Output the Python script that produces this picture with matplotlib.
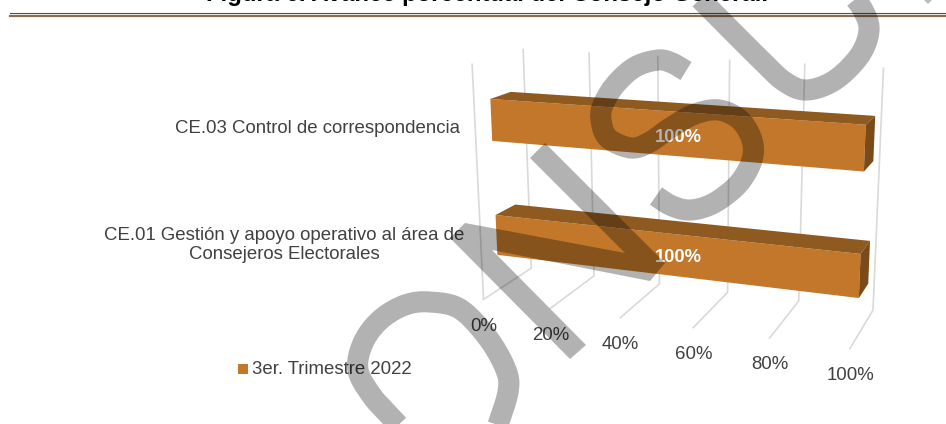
import numpy as np
import matplotlib
matplotlib.use("Agg")
import matplotlib.pyplot as plt
from matplotlib.patches import Polygon, Rectangle

# chart data
categories = ["CE.01 Gestión y apoyo operativo al área de\nConsejeros Electorales",
              "CE.03 Control de correspondencia"]
values = [100, 100]
value_ticks = [0, 20, 40, 60, 80, 100]
tick_labels = ["0%", "20%", "40%", "60%", "80%", "100%"]
series_name = "3er. Trimestre 2022"
title = "Figura 6. Avance porcentual del Consejo General."

plt.rcParams["font.family"] = ["Liberation Sans", "DejaVu Sans"]

# pixel positions of the 3d box, used to fit the camera
front_floor = [(483, 299), (552, 308), (620, 318), (693, 328), (769, 338), (850, 349)]
back_floor = [(531, 269), (594, 275), (659, 284), (728, 292), (799, 301), (873, 310)]
back_top = [(523, 50), (589, 53), (658, 57), (730, 61), (805, 64), (883, 68)]
front_top_left = (472, 64)

world = []
pix = []
for i, t in enumerate(value_ticks):
    world += [(t / 100, 0, 0), (t / 100, 0, 1), (t / 100, 1, 1)]
    pix += [front_floor[i], back_floor[i], back_top[i]]
world.append((0, 1, 0))
pix.append(front_top_left)

A = []
b = []
for (X, Y, Z), (u, v) in zip(world, pix):
    A.append([X, Y, Z, 1, 0, 0, 0, 0, -u * X, -u * Y, -u * Z])
    b.append(u)
    A.append([0, 0, 0, 0, X, Y, Z, 1, -v * X, -v * Y, -v * Z])
    b.append(v)
p = np.linalg.lstsq(np.array(A, float), np.array(b, float), rcond=None)[0]
cam = np.append(p, 1).reshape(3, 4)


def project(x, y, z):
    h = cam @ np.array([x, y, z, 1.0])
    return h[0] / h[2], h[1] / h[2]


def smooth(pts, n=12):
    # catmull-rom through the traced points
    pts = np.array(pts, float)
    pts = np.vstack([2 * pts[0] - pts[1], pts, 2 * pts[-1] - pts[-2]])
    out = []
    for i in range(1, len(pts) - 2):
        for t in np.linspace(0, 1, n, endpoint=False):
            out.append(0.5 * (2 * pts[i] + (pts[i + 1] - pts[i - 1]) * t
                              + (2 * pts[i - 1] - 5 * pts[i] + 4 * pts[i + 1] - pts[i + 2]) * t ** 2
                              + (3 * pts[i] - pts[i - 1] - 3 * pts[i + 1] + pts[i + 2]) * t ** 3))
    out.append(pts[-2])
    return np.array(out)


fig = plt.figure(figsize=(9.46, 4.24), dpi=100)
ax = fig.add_axes([0, 0, 1, 1])
ax.set_xlim(0, 946)
ax.set_ylim(424, 0)
ax.axis("off")

# header
ax.text(487, 1.5, title, ha="center", va="baseline", fontsize=17.2, fontweight="bold", color="black")
ax.plot([10, 946], [13, 13], color="#6b4a2c", lw=0.8)
ax.plot([10, 946], [15.7, 15.7], color="#8c6d50", lw=1.6)
ax.add_patch(Polygon([(924, 0), (932, 0), (928, 4)], color="#bdbdbd", lw=0))

# grid
grid = "#d9d9d9"
for t in value_ticks:
    x = t / 100
    xs, ys = zip(project(x, 0, 0), project(x, 0, 1), project(x, 1, 1))
    ax.plot(xs, ys, color=grid, lw=1.2, zorder=1)
xs, ys = zip(project(0, 0, 0), project(0, 1, 0))
ax.plot(xs, ys, color=grid, lw=1.2, zorder=1)

# bars
bar_y = [(0.157, 0.335), (0.658, 0.836)]
z0, z1 = 0.305, 0.71
for (y0, y1), val in zip(bar_y, values):
    x = val / 100
    ax.add_patch(Polygon([project(0, y0, z0), project(x, y0, z0), project(x, y1, z0), project(0, y1, z0)],
                         color="#c2772a", lw=0, zorder=3))
    ax.add_patch(Polygon([project(0, y1, z0), project(x, y1, z0), project(x, y1, z1), project(0, y1, z1)],
                         color="#8f5a20", lw=0, zorder=3))
    ax.add_patch(Polygon([project(x, y0, z0), project(x, y0, z1), project(x, y1, z1), project(x, y1, z0)],
                         color="#7a4a19", lw=0, zorder=3))

# labels
text_color = "#404040"
label_size = 13.4
for t, lab in zip(value_ticks, tick_labels):
    x, y = project(t / 100, 0, 0)
    ax.text(x + 0.5, y + 27, lab, ha="center", va="center", fontsize=label_size, color=text_color)
ax.text(460, 128.5, categories[1], ha="right", va="center", fontsize=label_size, color=text_color)
ax.text(284, 245, categories[0], ha="center", va="center", fontsize=label_size, color=text_color,
        linespacing=1.2)
ax.text(678, 138, "100%", ha="center", va="center", fontsize=13.2, fontweight="bold", color="white", zorder=4)
ax.text(678, 258, "100%", ha="center", va="center", fontsize=13.2, fontweight="bold", color="white", zorder=4)
ax.add_patch(Rectangle((238, 364), 10, 10, color="#c2772a", lw=0))
ax.text(252, 370, series_name, ha="left", va="center", fontsize=label_size, color=text_color)

# watermark over everything
wm = dict(color="black", alpha=0.3, lw=15.2, solid_capstyle="butt", solid_joinstyle="round", zorder=10)
u_pts = [(695, -6), (711, 10), (761, 60), (785, 82), (807, 90), (835, 80), (860, 55), (869, 30), (863, 10), (850, -8)]
s_pts = [(686, 71), (672, 63), (658, 60), (635, 67), (615, 85), (603, 105), (601, 120), (608, 138), (631, 148),
         (650, 142), (670, 128), (695, 114), (719, 110), (740, 120), (752, 140), (752, 160), (740, 182),
         (722, 198), (705, 207), (687, 210), (670, 205), (656, 196)]
o_pts = [(405, 432), (390, 416), (372, 396), (358, 370), (363, 343), (380, 320), (405, 305), (430, 302),
         (460, 309), (488, 338), (506, 370), (508, 392), (497, 428)]
small_pts = [(262, 440), (293, 427), (328, 440)]
for pts in [u_pts, s_pts, o_pts, small_pts]:
    c = smooth(pts)
    ax.plot(c[:, 0], c[:, 1], **wm)
n_poly = [(545, 143), (665, 263), (650, 281), (492, 250), (586, 345), (570, 359),
          (450, 238), (465, 223), (625, 253), (530, 158)]
ax.add_patch(Polygon(n_poly, color="black", alpha=0.3, lw=0, zorder=10))

fig.savefig("out.png", dpi=100)
